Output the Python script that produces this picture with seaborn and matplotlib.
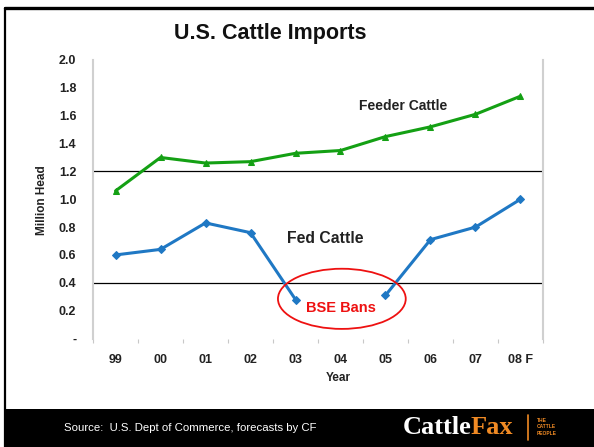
import numpy as np
import pandas as pd
import matplotlib
matplotlib.use("Agg")
import matplotlib.pyplot as plt
from matplotlib.patches import Ellipse, Rectangle
from matplotlib.lines import Line2D
import seaborn as sns

sns.set_theme(style="white")
plt.rcParams["font.family"] = ["Liberation Sans", "DejaVu Sans"]

# Data (million head)
years = ["99", "00", "01", "02", "03", "04", "05", "06", "07", "08 F"]
feeder = [1.06, 1.30, 1.26, 1.27, 1.33, 1.35, 1.45, 1.52, 1.61, 1.74]
fed = [0.60, 0.64, 0.83, 0.76, 0.28, np.nan, 0.31, 0.71, 0.80, 1.00]
ref_lines = [1.2, 0.4]
y_ticks = [0, 0.2, 0.4, 0.6, 0.8, 1.0, 1.2, 1.4, 1.6, 1.8, 2.0]
y_labels = ["-", "0.2", "0.4", "0.6", "0.8", "1.0", "1.2", "1.4", "1.6", "1.8", "2.0"]

green = "#14a014"
blue = "#1f78c4"

df = pd.DataFrame({"x": np.arange(len(years)), "feeder": feeder, "fed": fed})
# fed cattle line breaks in 04 (BSE ban) -> split into segments
df["seg"] = df["fed"].isna().cumsum()
fed_df = df.dropna(subset=["fed"])

fig = plt.figure(figsize=(5.94, 4.47), dpi=100)
ax = fig.add_axes([0.1566, 0.2427, 0.7575, 0.6231])

for y in ref_lines:
    ax.axhline(y, color="black", lw=0.9, zorder=1)

sns.lineplot(data=df, x="x", y="feeder", ax=ax, color=green, lw=2.2,
             marker="^", markersize=5, markeredgecolor=green, zorder=3)
sns.lineplot(data=fed_df, x="x", y="fed", units="seg", estimator=None, ax=ax,
             color=blue, lw=2.2, marker="D", markersize=4,
             markeredgecolor=blue, zorder=3)

ax.set_xlim(-0.5, len(years) - 0.5)
ax.set_ylim(0, 2.0)
ax.set_xticks(np.arange(len(years)))
ax.set_xticklabels(years, fontsize=9, fontweight="bold", color="#222222")
ax.set_xticks(np.arange(len(years) + 1) - 0.5, minor=True)
ax.set_yticks(y_ticks)
ax.set_yticklabels(y_labels, fontsize=9, fontweight="bold", color="#222222")
ax.tick_params(axis="x", which="major", length=0, pad=11)
ax.tick_params(axis="x", which="minor", bottom=True, length=3, width=0.8,
               color="#c8c8c8", direction="out")
ax.tick_params(axis="y", length=0, pad=12)
ax.set_xlabel("")
ax.set_ylabel("")

for side in ["left", "right"]:
    ax.spines[side].set_visible(True)
    ax.spines[side].set_color("#d0d0d0")
    ax.spines[side].set_linewidth(1.5)
ax.spines["top"].set_visible(False)
ax.spines["bottom"].set_visible(False)

# annotations
ax.text(6.39, 1.668, "Feeder Cattle", fontsize=10, fontweight="bold",
        color="#222222", ha="center", va="center")
ax.text(4.66, 0.717, "Fed Cattle", fontsize=11.3, fontweight="bold",
        color="#222222", ha="center", va="center")
ax.text(5.01, 0.22, "BSE Bans", fontsize=10.5, fontweight="bold",
        color="#ee1111", ha="center", va="center")
ax.add_patch(Ellipse((5.03, 0.285), 2.84, 0.432, fill=False,
                     edgecolor="#ee1111", lw=1.3, zorder=4, clip_on=False))

fig.text(0.4545, 1 - 33 / 447, "U.S. Cattle Imports", fontsize=15.5,
         fontweight="bold", color="#111111", ha="center", va="center")
fig.text(42 / 594, 1 - 200 / 447, "Million Head", fontsize=8.5, fontweight="bold",
         rotation=90, ha="center", va="center", color="#222222")
fig.text(338 / 594, 1 - 378 / 447, "Year", fontsize=8.5, fontweight="bold",
         ha="center", va="center", color="#222222")

# frame and footer band
fig.patches.append(Rectangle((5 / 594, 0), 1, 38 / 447, transform=fig.transFigure,
                             facecolor="black", edgecolor="none", zorder=0))
fig.lines.append(Line2D([5 / 594, 5 / 594], [0, 1 - 8 / 447],
                        transform=fig.transFigure, color="black", lw=1.6))
fig.lines.append(Line2D([5 / 594, 1], [1 - 8 / 447, 1 - 8 / 447],
                        transform=fig.transFigure, color="black", lw=2.4))

fig.text(64 / 594, 1 - 428 / 447, "Source:  U.S. Dept of Commerce, forecasts by CF",
         fontsize=8.2, color="white", ha="left", va="center")
fig.text(472 / 594, 1 - 428 / 447, "Cattle", fontsize=19, fontweight="bold",
         family=["Liberation Serif", "DejaVu Serif"], color="white",
         ha="right", va="center")
fig.text(471 / 594, 1 - 428 / 447, "Fax", fontsize=19, fontweight="bold",
         family=["Liberation Serif", "DejaVu Serif"], color="#f08a24",
         ha="left", va="center")
fig.lines.append(Line2D([528 / 594, 528 / 594], [1 - 440 / 447, 1 - 415 / 447],
                        transform=fig.transFigure, color="#f08a24", lw=1.2))
fig.text(537 / 594, 1 - 427 / 447, "THE\nCATTLE\nPEOPLE", fontsize=3.5,
         fontweight="bold", color="#f08a24", ha="left", va="center",
         linespacing=1.3)

fig.savefig("out.png", dpi=100, facecolor="white")
